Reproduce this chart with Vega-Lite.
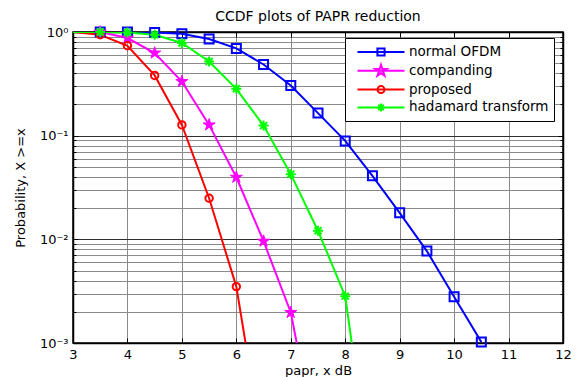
{
  "$schema": "https://vega.github.io/schema/vega-lite/v6.json",
  "width": 490,
  "height": 311,
  "autosize": {"type": "none"},
  "padding": {"left": 73, "top": 32, "right": 13, "bottom": 34},
  "background": "white",
  "title": {"text": "CCDF plots of PAPR reduction", "font": "DejaVu Sans", "fontSize": 14, "fontWeight": "normal", "color": "black", "offset": -1},
  "config": {"view": {"stroke": "black", "strokeWidth": 1.5}, "font": "DejaVu Sans"},
  "data": {"values": [
    {"series": "normal OFDM", "x": 3, "y": 1},
    {"series": "normal OFDM", "x": 3.5, "y": 1},
    {"series": "normal OFDM", "x": 4, "y": 1},
    {"series": "normal OFDM", "x": 4.5, "y": 0.99},
    {"series": "normal OFDM", "x": 5, "y": 0.963},
    {"series": "normal OFDM", "x": 5.5, "y": 0.855},
    {"series": "normal OFDM", "x": 6, "y": 0.695},
    {"series": "normal OFDM", "x": 6.5, "y": 0.486},
    {"series": "normal OFDM", "x": 7, "y": 0.305},
    {"series": "normal OFDM", "x": 7.5, "y": 0.165},
    {"series": "normal OFDM", "x": 8, "y": 0.089},
    {"series": "normal OFDM", "x": 8.5, "y": 0.041},
    {"series": "normal OFDM", "x": 9, "y": 0.018},
    {"series": "normal OFDM", "x": 9.5, "y": 0.0077},
    {"series": "normal OFDM", "x": 10, "y": 0.0028},
    {"series": "normal OFDM", "x": 10.5, "y": 0.00102},
    {"series": "companding", "x": 3, "y": 1},
    {"series": "companding", "x": 3.5, "y": 1},
    {"series": "companding", "x": 4, "y": 0.875},
    {"series": "companding", "x": 4.5, "y": 0.627},
    {"series": "companding", "x": 5, "y": 0.333},
    {"series": "companding", "x": 5.5, "y": 0.127},
    {"series": "companding", "x": 6, "y": 0.0397},
    {"series": "companding", "x": 6.5, "y": 0.0096},
    {"series": "companding", "x": 7, "y": 0.00197},
    {"series": "companding", "x": 7.5, "y": 0.00009},
    {"series": "proposed", "x": 3, "y": 1},
    {"series": "proposed", "x": 3.5, "y": 0.94},
    {"series": "proposed", "x": 4, "y": 0.737},
    {"series": "proposed", "x": 4.5, "y": 0.381},
    {"series": "proposed", "x": 5, "y": 0.127},
    {"series": "proposed", "x": 5.5, "y": 0.0249},
    {"series": "proposed", "x": 6, "y": 0.0035},
    {"series": "proposed", "x": 6.5, "y": 0.000087},
    {"series": "hadamard transform", "x": 3, "y": 1},
    {"series": "hadamard transform", "x": 3.5, "y": 1},
    {"series": "hadamard transform", "x": 4, "y": 0.99},
    {"series": "hadamard transform", "x": 4.5, "y": 0.94},
    {"series": "hadamard transform", "x": 5, "y": 0.783},
    {"series": "hadamard transform", "x": 5.5, "y": 0.52},
    {"series": "hadamard transform", "x": 6, "y": 0.283},
    {"series": "hadamard transform", "x": 6.5, "y": 0.125},
    {"series": "hadamard transform", "x": 7, "y": 0.0425},
    {"series": "hadamard transform", "x": 7.5, "y": 0.0121},
    {"series": "hadamard transform", "x": 8, "y": 0.00283},
    {"series": "hadamard transform", "x": 8.5, "y": 0.000037}
  ]},
  "layer": [
    {
      "mark": {"type": "line", "strokeWidth": 2, "clip": true},
      "encoding": {
        "x": {"field": "x", "type": "quantitative",
          "scale": {"domain": [3, 12], "nice": false, "zero": false},
          "axis": {"title": "papr, x dB", "values": [3,4,5,6,7,8,9,10,11,12], "grid": true, "gridColor": "#8a8a8a", "gridWidth": 1,
            "tickSize": -5, "tickColor": "black", "tickWidth": 1, "domainColor": "black", "domainWidth": 1.5,
            "labelFont": "DejaVu Sans", "labelFontSize": 13, "labelColor": "black", "labelPadding": 10, "labelFlush": false,
            "titleFont": "DejaVu Sans", "titleFontSize": 13, "titleFontWeight": "normal", "titleColor": "black", "titlePadding": 3}},
        "y": {"field": "y", "type": "quantitative",
          "scale": {"type": "log", "domain": [0.001, 1], "nice": false},
          "axis": {"title": "Probability, X >=x",
            "values": [0.001,0.002,0.003,0.004,0.005,0.006,0.007,0.008,0.009,0.01,0.02,0.03,0.04,0.05,0.06,0.07,0.08,0.09,0.1,0.2,0.3,0.4,0.5,0.6,0.7,0.8,0.9,1],
            "labelExpr": "datum.value == 1 ? '10⁰' : datum.value == 0.1 ? '10⁻¹' : datum.value == 0.01 ? '10⁻²' : datum.value == 0.001 ? '10⁻³' : ''",
            "labelOverlap": false, "labelBound": false, "labelFlush": false,
            "grid": true,
            "gridColor": {"condition": {"test": "abs(log(datum.value)/LN10 - round(log(datum.value)/LN10)) < 0.001", "value": "#303030"}, "value": "#8a8a8a"},
            "tickSize": {"condition": {"test": "abs(log(datum.value)/LN10 - round(log(datum.value)/LN10)) < 0.001", "value": -5}, "value": -3},
            "tickColor": "black", "domainColor": "black", "domainWidth": 1.5,
            "labelFont": "DejaVu Sans", "labelFontSize": 13, "labelColor": "black", "labelPadding": 10,
            "titleFont": "DejaVu Sans", "titleFontSize": 13, "titleFontWeight": "normal", "titleColor": "black", "titlePadding": 12}},
        "stroke": {"field": "series", "type": "nominal",
          "scale": {"domain": ["companding", "hadamard transform", "normal OFDM", "proposed"], "range": ["#ff00ff", "#00ff00", "#0000ff", "#ff0000"]},
          "legend": null}
      }
    },
    {
      "encoding": {
        "x": {"field": "x", "type": "quantitative",
          "scale": {"domain": [3, 12], "nice": false, "zero": false},
          "axis": {"orient": "top", "title": null, "labels": false, "grid": false, "values": [3,4,5,6,7,8,9,10,11,12],
            "tickSize": -5, "tickColor": "black", "domainColor": "black", "domainWidth": 1.5}},
        "y": {"field": "y", "type": "quantitative",
          "scale": {"type": "log", "domain": [0.001, 1], "nice": false},
          "axis": {"orient": "right", "title": null, "labels": false, "grid": false,
            "values": [0.001,0.002,0.003,0.004,0.005,0.006,0.007,0.008,0.009,0.01,0.02,0.03,0.04,0.05,0.06,0.07,0.08,0.09,0.1,0.2,0.3,0.4,0.5,0.6,0.7,0.8,0.9,1],
            "tickSize": {"condition": {"test": "abs(log(datum.value)/LN10 - round(log(datum.value)/LN10)) < 0.001", "value": -5}, "value": -3},
            "tickColor": "black", "domainColor": "black", "domainWidth": 1.5}}
      },
      "layer": [
        {
          "transform": [{"filter": "datum.series == 'normal OFDM' && datum.x > 3 && datum.y >= 0.001"}],
          "mark": {"type": "point", "shape": "square", "filled": false, "stroke": "#0000ff", "strokeWidth": 2, "size": 81, "opacity": 1}
        },
        {
          "transform": [{"filter": "datum.series == 'companding' && datum.x > 3 && datum.y >= 0.001"}],
          "mark": {"type": "point", "shape": "M0,-1L0.225,-0.309L0.951,-0.309L0.363,0.118L0.588,0.809L0,0.382L-0.588,0.809L-0.363,0.118L-0.951,-0.309L-0.225,-0.309Z", "filled": true, "fill": "#ff00ff", "stroke": "#ff00ff", "strokeWidth": 1, "size": 160, "opacity": 1}
        },
        {
          "transform": [{"filter": "datum.series == 'proposed' && datum.x > 3 && datum.y >= 0.001"}],
          "mark": {"type": "point", "shape": "circle", "filled": false, "stroke": "#ff0000", "strokeWidth": 2, "size": 55, "opacity": 1}
        },
        {
          "transform": [{"filter": "datum.series == 'hadamard transform' && datum.x > 3 && datum.y >= 0.001"}],
          "mark": {"type": "point", "shape": "M-1,0H1M0,-1V1M-0.7,-0.7L0.7,0.7M-0.7,0.7L0.7,-0.7", "filled": false, "stroke": "#00ff00", "strokeWidth": 2, "size": 100, "opacity": 1}
        },
        {
          "mark": {"type": "point", "filled": false, "strokeWidth": 2, "opacity": 0},
          "encoding": {
            "color": {"field": "series", "type": "nominal",
              "scale": {"domain": ["normal OFDM", "companding", "proposed", "hadamard transform"], "range": ["#0000ff", "#ff00ff", "#ff0000", "#00ff00"]},
              "legend": {"title": null, "orient": "none", "legendX": 272, "legendY": 6, "fillColor": "white", "strokeColor": "black", "padding": 5,
                "symbolSize": 256, "symbolStrokeWidth": 2, "symbolOpacity": 1, "symbolOffset": 22, "labelOffset": 19,
                "labelFont": "DejaVu Sans", "labelFontSize": 13.5, "labelColor": "black", "rowPadding": 0.8, "labelLimit": 300}},
            "shape": {"field": "series", "type": "nominal",
              "scale": {"domain": ["normal OFDM", "companding", "proposed", "hadamard transform"],
                "range": [
                  "M-2.94,0H2.94M-0.45,-0.45H0.45V0.45H-0.45Z",
                  "M-2.94,0H2.94M0,-0.75L0.169,-0.232L0.713,-0.232L0.272,0.089L0.441,0.607L0,0.287L-0.441,0.607L-0.272,0.089L-0.713,-0.232L-0.169,-0.232Z",
                  "M-2.94,0H2.94M0.44,0A0.44,0.44,0,1,1,-0.44,0A0.44,0.44,0,1,1,0.44,0Z",
                  "M-2.94,0H2.94M0,-0.5V0.5M-0.35,-0.35L0.35,0.35M-0.35,0.35L0.35,-0.35"
                ]},
              "legend": {"title": null, "orient": "none", "legendX": 272, "legendY": 6, "fillColor": "white", "strokeColor": "black", "padding": 5,
                "symbolSize": 256, "symbolStrokeWidth": 2, "symbolOpacity": 1, "symbolOffset": 22, "labelOffset": 19,
                "labelFont": "DejaVu Sans", "labelFontSize": 13.5, "labelColor": "black", "rowPadding": 0.8, "labelLimit": 300}}
          }
        }
      ]
    }
  ],
  "resolve": {"axis": {"x": "independent", "y": "independent"}}
}
